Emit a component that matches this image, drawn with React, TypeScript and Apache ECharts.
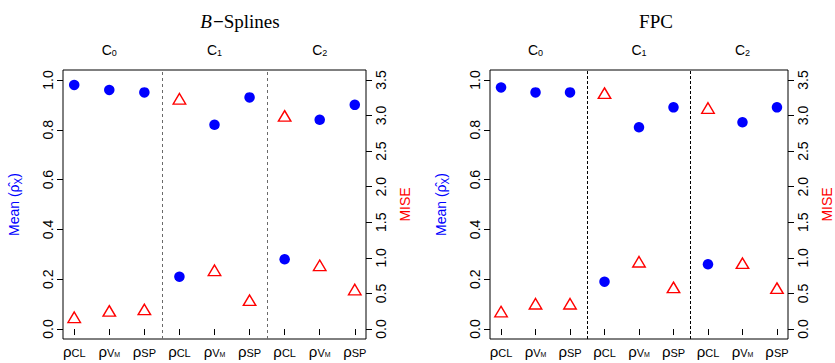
import React, { useEffect, useRef } from "react";
import * as echarts from "echarts";

// ---------- data ----------
const xCategories = ["CL", "VM", "SP", "CL", "VM", "SP", "CL", "VM", "SP"];
const groupLabels = ["0", "1", "2"];
const groupCenters = [2, 5, 8];
const separators = [3.5, 6.5];
const meanTicks = [0, 0.2, 0.4, 0.6, 0.8, 1.0];
const miseTicks = [0, 0.5, 1.0, 1.5, 2.0, 2.5, 3.0, 3.5];
const panelTitles = ["B-Splines", "FPC"];

const bsMean = [0.98, 0.96, 0.95, 0.21, 0.82, 0.93, 0.28, 0.84, 0.9];
const bsMise = [0.14, 0.23, 0.25, 3.21, 0.8, 0.38, 2.97, 0.87, 0.53];
const fpcMean = [0.97, 0.95, 0.95, 0.19, 0.81, 0.89, 0.26, 0.83, 0.89];
const fpcMise = [0.22, 0.33, 0.33, 3.29, 0.92, 0.56, 3.08, 0.9, 0.55];

const FONT = "'Liberation Sans', Arial, Helvetica, sans-serif";
const SERIF = "'Liberation Serif', 'Times New Roman', serif";

const xTickValues = xCategories.map((_, i) => i + 1);

function xLabel(v: number) {
  const c = xCategories[Math.round(v) - 1];
  if (c === "VM") return "{r|ρ}{s|V}{ss|M}";
  return "{r|ρ}{s|" + c + "}";
}

const xRich = {
  r: { fontSize: 15, fontFamily: FONT, color: "#000", verticalAlign: "top", lineHeight: 14 },
  s: { fontSize: 11, fontFamily: FONT, color: "#000", verticalAlign: "bottom", lineHeight: 11, padding: [5, 0, 0, 0] },
  ss: { fontSize: 7, fontFamily: FONT, color: "#000", verticalAlign: "bottom", lineHeight: 7, padding: [9, 0, 0, 0] },
};

const topRich = {
  c: { fontSize: 14, fontFamily: FONT, color: "#000", verticalAlign: "top", lineHeight: 14 },
  s: { fontSize: 9, fontFamily: FONT, color: "#000", verticalAlign: "bottom", lineHeight: 9, padding: [7, 0, 0, 0] },
};

const panels = [
  { left: 63, mean: bsMean, mise: bsMise, sepColor: "#6a6a6a", sepDash: [3, 3], titleX: 240 },
  { left: 490, mean: fpcMean, mise: fpcMise, sepColor: "#000", sepDash: [3, 2], titleX: 656 },
];

function buildOption() {
  const grid: any[] = [];
  const xAxis: any[] = [];
  const yAxis: any[] = [];
  const series: any[] = [];
  const graphic: any[] = [];

  panels.forEach((p, i) => {
    grid.push({
      left: p.left,
      top: 70,
      width: 303,
      height: 269,
      show: true,
      borderColor: "#000",
      borderWidth: 1,
      backgroundColor: "transparent",
    });
    xAxis.push({
      gridIndex: i,
      type: "value",
      min: 0.68,
      max: 9.32,
      position: "bottom",
      axisLine: { show: false },
      splitLine: { show: false },
      axisTick: { show: true, customValues: xTickValues, length: 6, lineStyle: { color: "#000" } },
      axisLabel: { customValues: xTickValues, formatter: xLabel, rich: xRich, margin: 5 },
    });
    xAxis.push({
      gridIndex: i,
      type: "value",
      min: 0.68,
      max: 9.32,
      position: "top",
      axisLine: { show: false },
      splitLine: { show: false },
      axisTick: { show: false },
      axisLabel: {
        customValues: groupCenters,
        formatter: (v: number) => "{c|C}{s|" + groupLabels[groupCenters.indexOf(Math.round(v))] + "}",
        rich: topRich,
        margin: 13,
      },
    });
    yAxis.push({
      gridIndex: i,
      type: "value",
      min: -0.04,
      max: 1.04,
      position: "left",
      axisLine: { show: false },
      splitLine: { show: false },
      axisTick: { show: true, customValues: meanTicks, length: 6, lineStyle: { color: "#000" } },
      axisLabel: {
        customValues: meanTicks,
        rotate: 90,
        formatter: (v: number) => v.toFixed(1),
        margin: 8,
        fontSize: 14,
        fontFamily: FONT,
        color: "#000",
      },
      name: "{b|Mean (}{h|ρ̂}{x|X}{b|)}",
      nameLocation: "middle",
      nameGap: 40,
      nameRotate: 90,
      nameTextStyle: {
        rich: {
          b: { fontSize: 14, fontFamily: FONT, color: "#0000FF", verticalAlign: "top", lineHeight: 16 },
          h: { fontSize: 14, fontFamily: FONT, color: "#0000FF", verticalAlign: "top", lineHeight: 16 },
          x: { fontSize: 10, fontFamily: FONT, color: "#0000FF", verticalAlign: "bottom", lineHeight: 10, padding: [6, 0, 0, 0] },
        },
      },
    });
    yAxis.push({
      gridIndex: i,
      type: "value",
      min: -0.14,
      max: 3.64,
      position: "right",
      axisLine: { show: false },
      splitLine: { show: false },
      axisTick: { show: true, customValues: miseTicks, length: 6, lineStyle: { color: "#000" } },
      axisLabel: {
        customValues: miseTicks,
        rotate: 90,
        formatter: (v: number) => v.toFixed(1),
        margin: 8,
        fontSize: 14,
        fontFamily: FONT,
        color: "#000",
      },
      name: "MISE",
      nameLocation: "middle",
      nameGap: 32,
      nameRotate: 90,
      nameTextStyle: { fontSize: 14, fontFamily: FONT, color: "#FF0000" },
    });
    series.push({
      type: "scatter",
      xAxisIndex: 2 * i,
      yAxisIndex: 2 * i,
      data: p.mean.map((v, k) => [k + 1, v]),
      symbol: "circle",
      symbolSize: 10.5,
      itemStyle: { color: "#0000FF", opacity: 1 },
      markLine: {
        silent: true,
        symbol: ["none", "none"],
        label: { show: false },
        lineStyle: { color: p.sepColor, type: p.sepDash, width: 1 },
        data: separators.map((s) => ({ xAxis: s })),
      },
    });
    series.push({
      type: "scatter",
      xAxisIndex: 2 * i,
      yAxisIndex: 2 * i + 1,
      data: p.mise.map((v, k) => [k + 1, v]),
      symbol: "triangle",
      symbolSize: [12.5, 10.5],
      symbolOffset: [0, -1.8],
      itemStyle: { color: "transparent", borderColor: "#FF0000", borderWidth: 1.4, opacity: 1 },
    });

    const t = panelTitles[i];
    graphic.push({
      type: "text",
      x: p.titleX,
      y: 21,
      style: {
        text: t === "B-Splines" ? "{i|B}{m|−}{n|Splines}" : "{n|" + t + "}",
        align: "center",
        verticalAlign: "middle",
        rich: {
          i: { fontSize: 19, fontFamily: SERIF, fontStyle: "italic", fill: "#000", padding: [0, 1, 0, 0] },
          m: { fontSize: 19, fontFamily: SERIF, fontWeight: "bold", fill: "#000" },
          n: { fontSize: 19, fontFamily: SERIF, fill: "#000" },
        },
        fill: "#000",
        font: "19px " + SERIF,
      },
    });
  });

  return {
    animation: false,
    backgroundColor: "#fff",
    grid,
    xAxis,
    yAxis,
    series,
    graphic,
  };
}

export default function App() {
  const ref = useRef<HTMLDivElement>(null);
  useEffect(() => {
    if (!ref.current) return;
    const chart = echarts.init(ref.current, undefined, { renderer: "svg" });
    chart.setOption(buildOption() as any);
    return () => chart.dispose();
  }, []);
  return (
    <div
      ref={ref}
      style={{ position: "fixed", left: 0, top: 0, width: 835, height: 363, background: "#fff" }}
    />
  );
}
